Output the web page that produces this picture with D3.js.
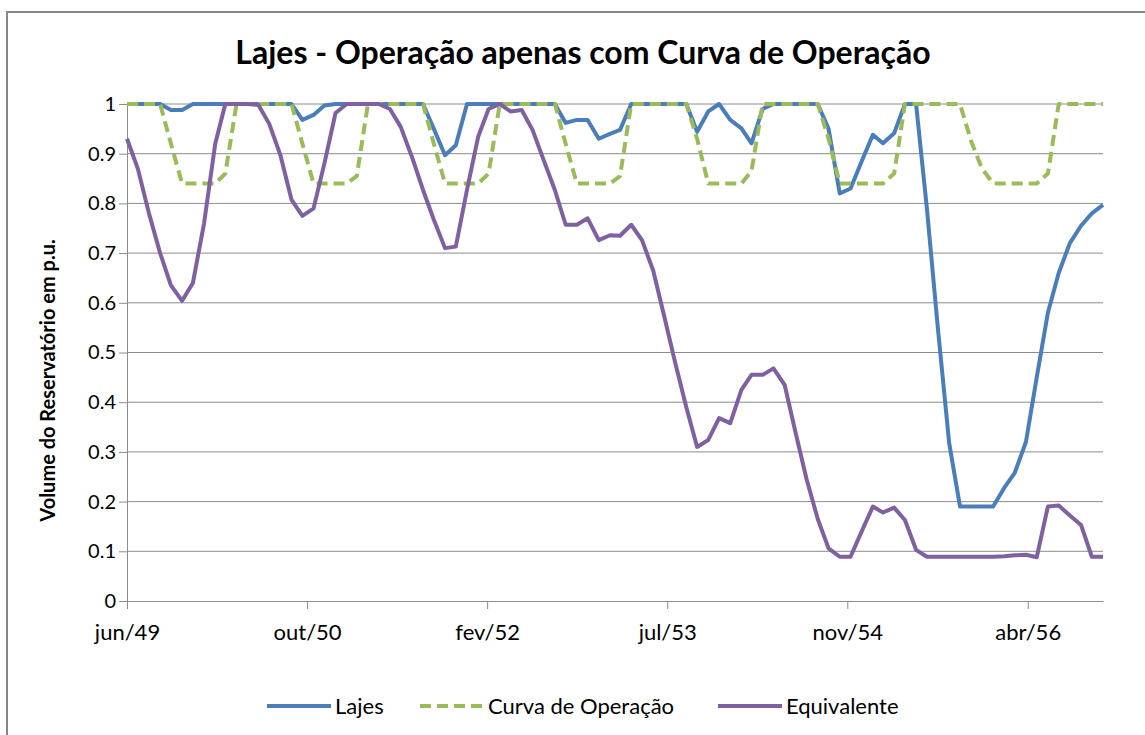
<!DOCTYPE html>
<html>
<head>
<meta charset="utf-8">
<script src="https://cdn.jsdelivr.net/npm/d3@7"></script>
<style>
  body { margin: 0; background: #fff; }
  text { font-family: Lato, "Open Sans", sans-serif; fill: #000; }
</style>
</head>
<body>
<div class="graph"></div>
<script>
// monthly data, jun/1949 .. nov/1956
var startMonth = new Date(1949, 5, 1)
var lajes = [1,1,1,1, 0.988,0.988,1, 1,1,1,1,1,1,1,1,1, 0.968,0.978,0.997,
    1,1,1,1,1,1,1,1,1, 0.95,0.897,0.917, 1,1,1,1,1,1,1,1,1,
    0.962,0.968,0.968,0.93,0.94,0.948, 1,1,1,1,1,1,
    0.944,0.985,1,0.968,0.951,0.921,0.99, 1,1,1,1,1,
    0.95,0.82,0.83,0.885,0.938,0.921,0.941,1,1,
    0.79,0.545,0.317,0.19,0.19,0.19,0.19,
    0.228,0.258,0.32,0.45,0.58,0.66,0.72,0.755,0.78,0.797]
var curva = [1,1,1,1, 0.92,0.84,0.84,0.84,0.84,0.86, 1,1,1,1,1,1,
    0.92,0.84,0.84,0.84,0.84,0.855, 1,1,1,1,1,1,
    0.92,0.84,0.84,0.84,0.84,0.86, 1,1,1,1,1,1,
    0.92,0.84,0.84,0.84,0.84,0.855, 1,1,1,1,1,1,
    0.93,0.84,0.84,0.84,0.84,0.865, 1,1,1,1,1,1,
    0.93,0.84,0.84,0.84,0.84,0.84,0.86, 1,1,1,1,1,1,
    0.925,0.87,0.84,0.84,0.84,0.84,0.84,0.86, 1,1,1,1,1]
var equivalente = [0.93,0.87,0.78,0.70,0.635,0.604,0.64,0.76,0.92,1,
    1,1,0.998,0.96,0.897,0.807,0.775,0.79,0.88,0.982,
    1,1,1,1,0.99,0.954,0.894,0.827,0.767,0.71,
    0.713,0.827,0.934,0.99,1,0.985,0.988,0.948,0.887,0.827,
    0.757,0.757,0.77,0.726,0.736,0.735,0.757,0.726,0.665,0.575,
    0.48,0.39,0.31,0.324,0.368,0.358,0.425,0.455,0.455,0.468,
    0.435,0.34,0.245,0.165,0.106,0.089,0.089,0.14,0.19,0.178,
    0.188,0.163,0.103,0.089,0.089,0.089,0.089,0.089,0.089,0.089,
    0.09,0.092,0.093,0.088,0.19,0.192,0.172,0.153,0.089,0.089]

// date axis ticks (excel steps 500 days)
var tickDates = ['1949-06-01','1950-10-14','1952-02-26','1953-07-10','1954-11-22','1956-04-06']
var tickLabels = ['jun/49','out/50','fev/52','jul/53','nov/54','abr/56']
var yTicks = [0,0.1,0.2,0.3,0.4,0.5,0.6,0.7,0.8,0.9,1]

var seriesNames = ['Lajes','Curva de Operação','Equivalente']
var colors = ['#4a7ebb','#9bbb59','#7f60a1']
var dashes = [null,'11,6',null]

var basewidth = 1145, baseheight = 735
var margin = {top: 104, left: 127, right: 42, bottom: 134}
var width = basewidth - margin.left - margin.right
var height = baseheight - margin.top - margin.bottom

var svg = d3.select('.graph')
    .append('svg')
    .attr('width', basewidth)
    .attr('height', baseheight)

// chart frame
svg.append('rect')
    .attr('x', 7).attr('y', 12)
    .attr('width', 1160).attr('height', 760)
    .style('fill', 'none')
    .style('stroke', '#878787')
    .style('stroke-width', 2)

svg.append('text')
    .attr('x', 583).attr('y', 64)
    .attr('text-anchor', 'middle')
    .style('font-size', '32px')
    .style('font-weight', 'bold')
    .text('Lajes - Operação apenas com Curva de Operação')

var canvas = svg.append('g')
    .attr('transform', 'translate(' + margin.left + ',' + margin.top + ')')

var months = lajes.map(function(d, i) { return d3.timeMonth.offset(startMonth, i) })
var x = d3.scaleTime()
    .domain([startMonth, months[months.length - 1]])
    .range([0, width])
var y = d3.scaleLinear().domain([0, 1]).range([height, 0])

// gridlines
canvas.append('g')
    .selectAll('line')
    .data(yTicks.slice(1))
    .enter().append('line')
    .attr('x1', 0).attr('x2', width)
    .attr('y1', function(d) { return y(d) })
    .attr('y2', function(d) { return y(d) })
    .style('stroke', '#8c8c8c')
    .style('stroke-width', 1)

var yAxis = canvas.append('g')
    .call(d3.axisLeft(y).tickValues(yTicks).tickSize(8).tickPadding(3)
        .tickFormat(function(d) { return d === 0 || d === 1 ? d : d3.format('.1f')(d) }))
yAxis.select('.domain').style('stroke', '#8c8c8c')
yAxis.selectAll('line').style('stroke', '#8c8c8c')
yAxis.selectAll('text').style('font-size', '20px').style('font-family', 'Lato, sans-serif')

var xAxis = canvas.append('g')
    .attr('transform', 'translate(0,' + height + ')')
    .call(d3.axisBottom(x)
        .tickValues(tickDates.map(function(d) { return d3.timeParse('%Y-%m-%d')(d) }))
        .tickFormat(function(d, i) { return tickLabels[i] })
        .tickSize(8).tickPadding(15).tickSizeOuter(0))
xAxis.select('.domain').style('stroke', '#8c8c8c')
xAxis.selectAll('line').style('stroke', '#8c8c8c')
xAxis.selectAll('text').style('font-size', '22px').style('font-family', 'Lato, sans-serif')

svg.append('text')
    .attr('transform', 'translate(55,' + (margin.top + height / 2 + 28) + ') rotate(-90)')
    .attr('text-anchor', 'middle')
    .style('font-size', '20px')
    .style('font-weight', 'bold')
    .text('Volume do Reservatório em p.u.')

var line = d3.line()
    .x(function(d, i) { return x(months[i]) })
    .y(function(d) { return y(d) })

var allSeries = [lajes, curva, equivalente]
allSeries.forEach(function(s, k) {
    canvas.append('path')
        .datum(s)
        .attr('d', line)
        .style('fill', 'none')
        .style('stroke', colors[k])
        .style('stroke-width', 4)
        .style('stroke-linejoin', 'round')
        .style('stroke-dasharray', dashes[k])
})

// legend
var legendX = [267, 420, 718]
var legend = svg.append('g')
seriesNames.forEach(function(name, k) {
    legend.append('line')
        .attr('x1', legendX[k]).attr('x2', legendX[k] + 64)
        .attr('y1', 706).attr('y2', 706)
        .style('stroke', colors[k])
        .style('stroke-width', 4)
        .style('stroke-dasharray', dashes[k])
    legend.append('text')
        .attr('x', legendX[k] + 68).attr('y', 714)
        .style('font-size', '22px')
        .text(name)
})
</script>
</body>
</html>
